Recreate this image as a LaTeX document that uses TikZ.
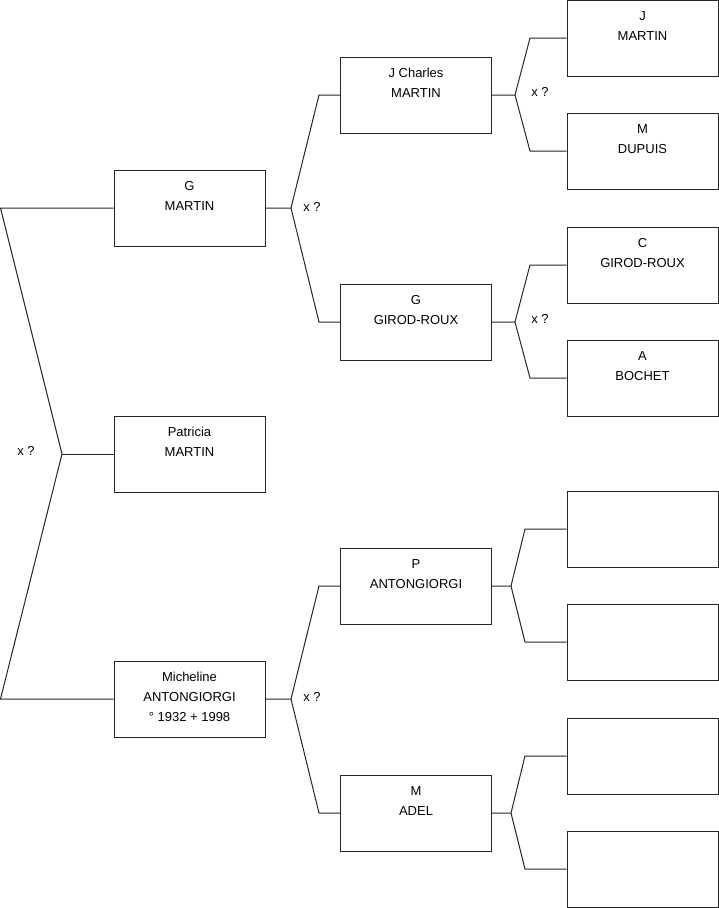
\documentclass[tikz,border=0pt]{standalone}
\usepackage{fontspec}
\setmainfont{Liberation Sans}
\newcommand\lowstrut{\rule[-9pt]{0pt}{1pt}}
\begin{document}
\begin{tikzpicture}[x=1pt,y=-1pt,
  person/.style={draw=black!85, line width=1pt, minimum width=151pt, minimum height=76pt,
    inner sep=0pt, align=center, font=\fontsize{13}{20}\selectfont},
  link/.style={draw=black!85, line width=1pt},
  xlab/.style={font=\fontsize{13}{16}\selectfont, inner sep=0pt}]
\useasboundingbox (0,0) rectangle (719,908);
% generation 1
\node[person] (GM)  at (189.5,208) {\strut G\\MARTIN\\\lowstrut};
\node[person] (PM)  at (189.5,454) {\strut Patricia\\MARTIN\\\lowstrut};
\node[person] (MA)  at (189.5,699) {\strut Micheline\\ANTONGIORGI\\° 1932 + 1998\lowstrut};
% generation 2
\node[person] (JC)  at (416,95)  {\strut J Charles\\MARTIN\\\lowstrut};
\node[person] (GR)  at (416,322) {\strut G\\GIROD-ROUX\\\lowstrut};
\node[person] (PA)  at (416,586) {\strut P\\ANTONGIORGI\\\lowstrut};
\node[person] (MD)  at (416,813) {\strut M\\ADEL\\\lowstrut};
% generation 3
\node[person] (JM)  at (642.5,38)  {\strut J\\MARTIN\\\lowstrut};
\node[person] (MDU) at (642.5,151) {\strut M\\DUPUIS\\\lowstrut};
\node[person] (CG)  at (642.5,265) {\strut C\\GIROD-ROUX\\\lowstrut};
\node[person] (AB)  at (642.5,378) {\strut A\\BOCHET\\\lowstrut};
\node[person] (E1)  at (642.5,529) {};
\node[person] (E2)  at (642.5,642) {};
\node[person] (E3)  at (642.5,756) {};
\node[person] (E4)  at (642.5,869) {};
% left fork
\coordinate (L1) at (0.5,208);
\coordinate (L2) at (62,454);
\coordinate (L3) at (0.5,699);
\draw[link] (GM.west) -- (L1) -- (L2) -- (L3) -- (MA.west);
\draw[link] (L2) -- (PM.west);
\node[xlab] (X0) at (26,451) {x ?};
% G MARTIN fork
\coordinate (F1) at (291,208);
\coordinate (F1a) at (319,95);
\coordinate (F1b) at (319,322);
\draw[link] (GM.east) -- (F1) -- (F1a) -- (JC.west);
\draw[link] (F1) -- (F1b) -- (GR.west);
\node[xlab] (X1) at (312,207) {x ?};
% Micheline fork
\coordinate (F2) at (291,699);
\coordinate (F2a) at (319,586);
\coordinate (F2b) at (319,813);
\draw[link] (MA.east) -- (F2) -- (F2a) -- (PA.west);
\draw[link] (F2) -- (F2b) -- (MD.west);
\node[xlab] (X2) at (312,697) {x ?};
% J Charles fork
\coordinate (F3) at (515,95);
\coordinate (F3a) at (530,38);
\coordinate (F3b) at (530,151);
\draw[link] (JC.east) -- (F3) -- (F3a) -- (JM.west);
\draw[link] (F3) -- (F3b) -- (MDU.west);
\node[xlab] (X3) at (540,92) {x ?};
% G GIROD-ROUX fork
\coordinate (F4) at (515,322);
\coordinate (F4a) at (530,265);
\coordinate (F4b) at (530,378);
\draw[link] (GR.east) -- (F4) -- (F4a) -- (CG.west);
\draw[link] (F4) -- (F4b) -- (AB.west);
\node[xlab] (X4) at (540,319) {x ?};
% P ANTONGIORGI fork
\coordinate (F5) at (511,586);
\coordinate (F5a) at (525,529);
\coordinate (F5b) at (525,642);
\draw[link] (PA.east) -- (F5) -- (F5a) -- (E1.west);
\draw[link] (F5) -- (F5b) -- (E2.west);
% M ADEL fork
\coordinate (F6) at (511,813);
\coordinate (F6a) at (525,756);
\coordinate (F6b) at (525,869);
\draw[link] (MD.east) -- (F6) -- (F6a) -- (E3.west);
\draw[link] (F6) -- (F6b) -- (E4.west);
\end{tikzpicture}
\end{document}
